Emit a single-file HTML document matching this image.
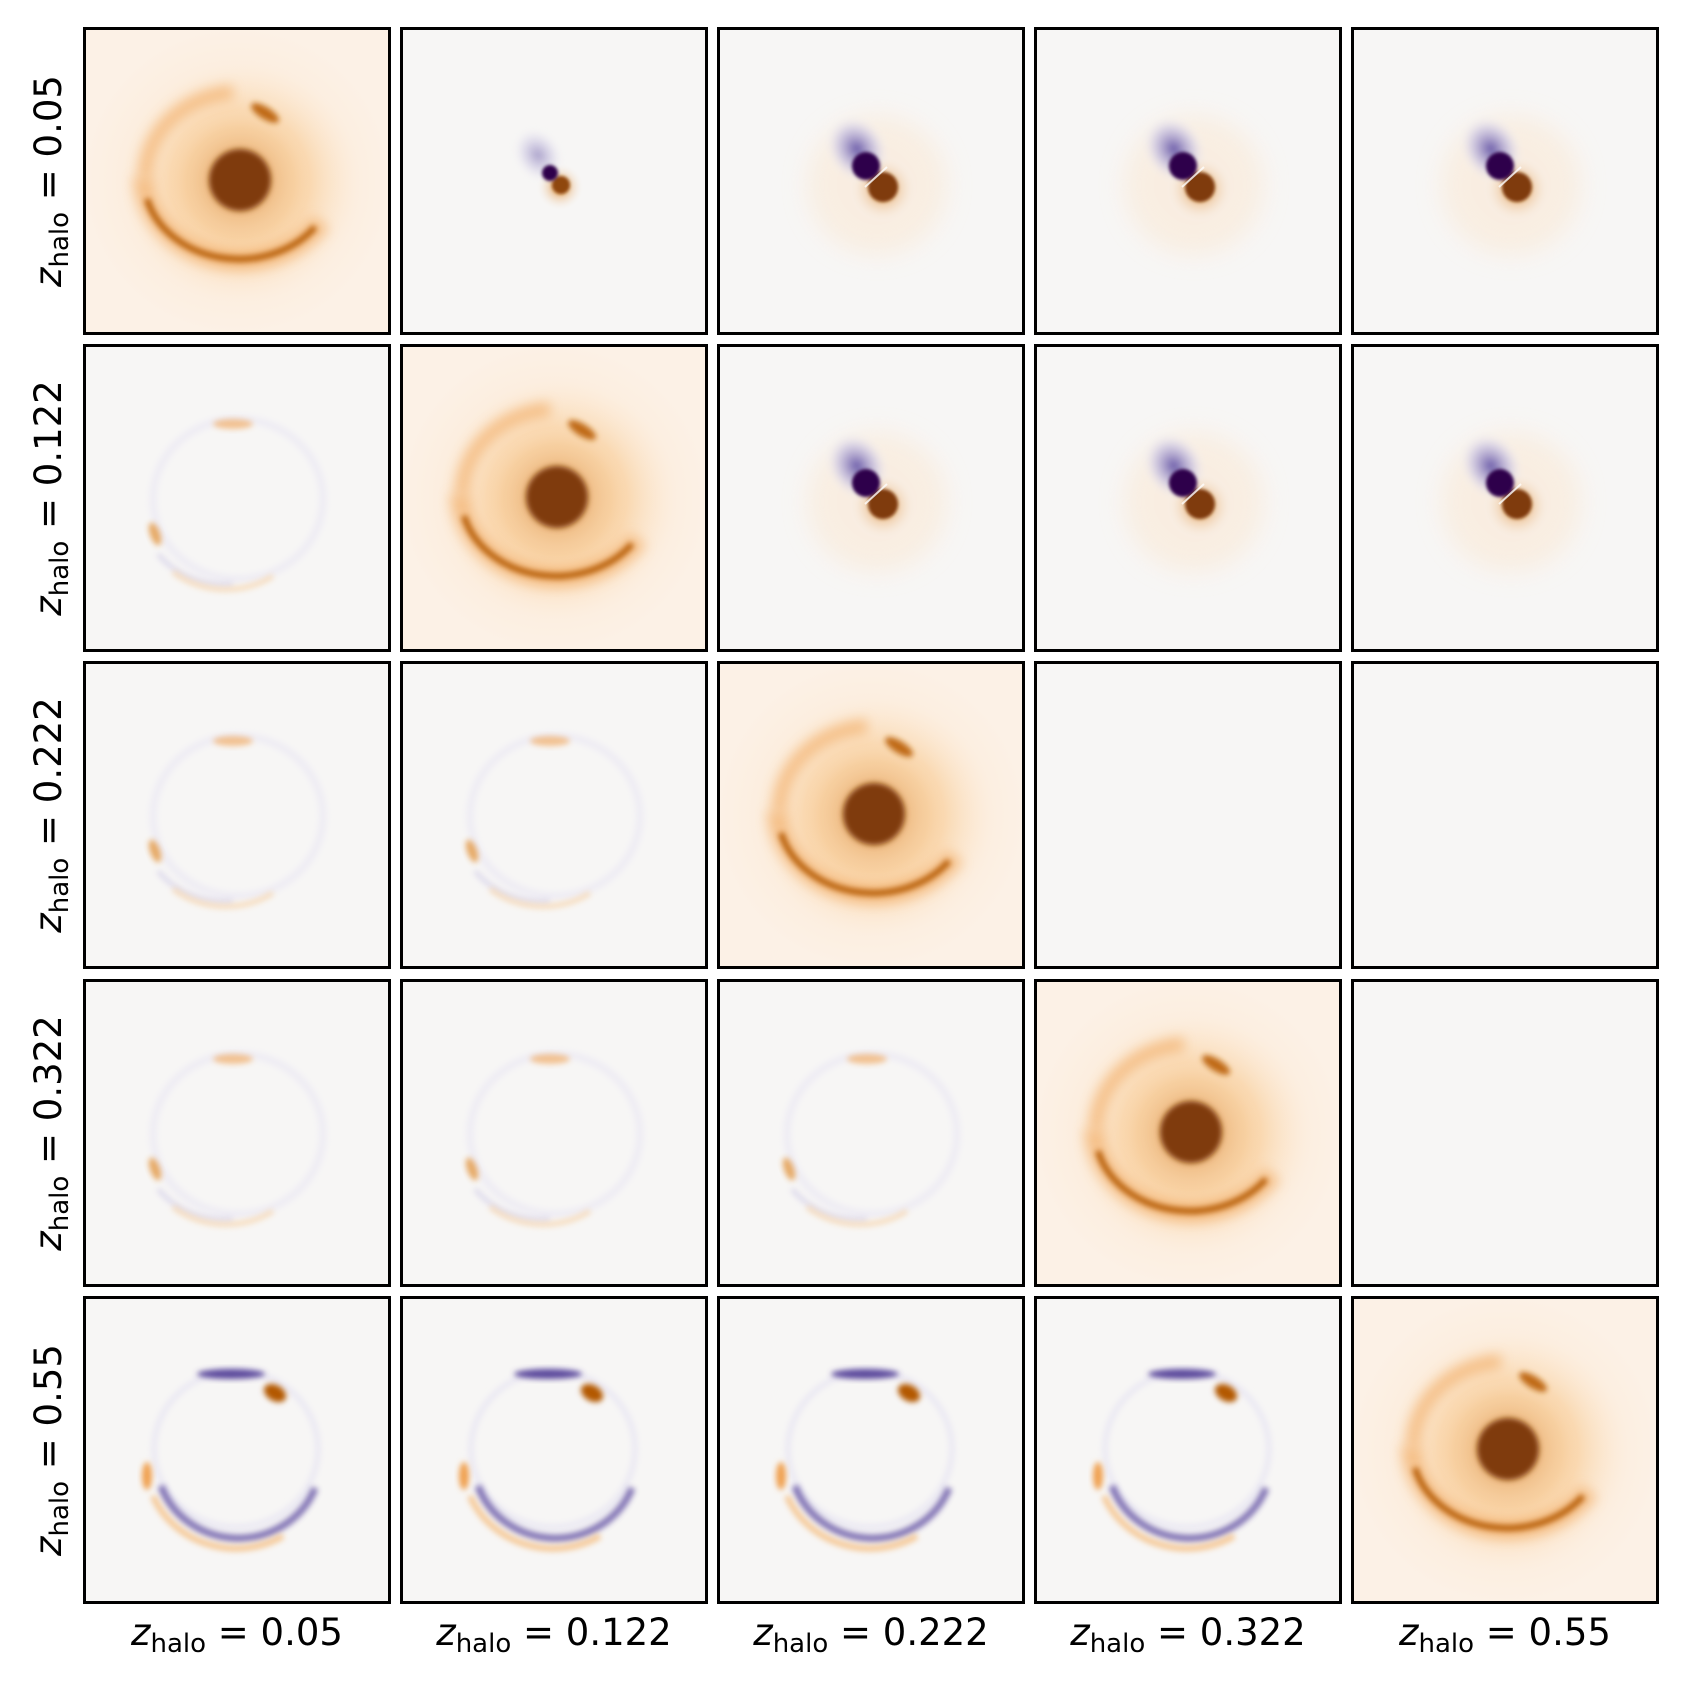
<!DOCTYPE html>
<html><head><meta charset="utf-8"><style>
html,body{margin:0;padding:0;background:#fff}
svg{display:block}
text{font-family:"DejaVu Sans","Liberation Sans",sans-serif;font-size:37px;fill:#000}
</style></head><body>
<svg width="1687" height="1686" viewBox="0 0 1687 1686" xmlns="http://www.w3.org/2000/svg">
<defs>
<filter id="b1" x="-50%" y="-50%" width="200%" height="200%"><feGaussianBlur stdDeviation="1.5"/></filter>
<filter id="b3" x="-50%" y="-50%" width="200%" height="200%"><feGaussianBlur stdDeviation="3"/></filter>
<filter id="b6" x="-50%" y="-50%" width="200%" height="200%"><feGaussianBlur stdDeviation="6"/></filter>
<filter id="b12" x="-50%" y="-50%" width="200%" height="200%"><feGaussianBlur stdDeviation="12"/></filter>
<radialGradient id="glow"><stop offset="0" stop-color="#e88b2a"/><stop offset="0.45" stop-color="#f6b260" stop-opacity="0.85"/><stop offset="1" stop-color="#fde3c4" stop-opacity="0"/></radialGradient>
<radialGradient id="bgd"><stop offset="0" stop-color="#fbe6cd"/><stop offset="1" stop-color="#fcf1e6"/></radialGradient>
<radialGradient id="oglow"><stop offset="0" stop-color="#e08a2c"/><stop offset="1" stop-color="#f7f6f5" stop-opacity="0"/></radialGradient>
<radialGradient id="pglow"><stop offset="0" stop-color="#6a5aa8"/><stop offset="0.6" stop-color="#c9c3e2" stop-opacity="0.7"/><stop offset="1" stop-color="#f7f6f5" stop-opacity="0"/></radialGradient>

<g id="diag">
  <rect x="0" y="0" width="308" height="308" fill="url(#bgd)"/>
  <circle cx="157" cy="155" r="120" fill="url(#glow)" opacity="0.65"/>
  <path d="M60,150 A97,85 0 0 0 238,195" fill="none" stroke="#f0a050" stroke-width="20" opacity="0.55" filter="url(#b6)"/>
  <path d="M64,172 A95,80 0 0 0 232,200" fill="none" stroke="#b35806" stroke-width="6" filter="url(#b3)" opacity="0.95"/>
  <path d="M62,150 A97,85 0 0 1 150,65" fill="none" stroke="#f0a050" stroke-width="14" opacity="0.55" filter="url(#b6)"/>
  <circle cx="157" cy="153" r="70" fill="url(#oglow)" opacity="0.95"/>
  <circle cx="157" cy="153" r="31" fill="#7f3b08" filter="url(#b3)"/>
  <ellipse cx="182" cy="86" rx="16" ry="6" transform="rotate(32 182 86)" fill="#c06a14" filter="url(#b3)"/>
</g>

<g id="dip">
  <rect x="0" y="0" width="308" height="308" fill="#f7f6f5"/>
  <circle cx="160" cy="158" r="70" fill="#fbe6cf" opacity="0.5" filter="url(#b12)"/>
  <ellipse cx="140" cy="122" rx="30" ry="36" transform="rotate(-35 140 122)" fill="url(#pglow)" filter="url(#b3)"/>
  <circle cx="166" cy="162" r="34" fill="url(#oglow)"/>
  <circle cx="166" cy="160" r="15" fill="#7f3b08" filter="url(#b1)"/>
  <circle cx="149" cy="139" r="14" fill="#2d004b" filter="url(#b1)"/>
  <line x1="148" y1="160" x2="170" y2="140" stroke="#ffffff" stroke-width="2" opacity="0.8"/>
</g>

<g id="dipS">
  <rect x="0" y="0" width="308" height="308" fill="#f7f6f5"/>
  <ellipse cx="138" cy="128" rx="24" ry="30" transform="rotate(-35 138 128)" fill="url(#pglow)" opacity="0.55" filter="url(#b3)"/>
  <circle cx="160" cy="160" r="24" fill="url(#oglow)"/>
  <circle cx="161" cy="158" r="9" fill="#8f470c" filter="url(#b1)"/>
  <circle cx="150" cy="146" r="8" fill="#2d004b" filter="url(#b1)"/>
</g>

<g id="res">
  <rect x="0" y="0" width="308" height="308" fill="#f7f6f5"/>
  <ellipse cx="155" cy="155" rx="85" ry="80" fill="none" stroke="#efedf4" stroke-width="8" filter="url(#b3)"/>
  <ellipse cx="150" cy="80" rx="20" ry="5" fill="#f0a050" opacity="0.6" filter="url(#b3)"/>
  <ellipse cx="72" cy="190" rx="5" ry="12" transform="rotate(-20 72 190)" fill="#e08a2c" opacity="0.7" filter="url(#b3)"/>
  <path d="M75,210 A85,80 0 0 0 150,240" fill="none" stroke="#d5d0e8" stroke-width="5" opacity="0.7" filter="url(#b3)"/>
  <path d="M90,228 A85,80 0 0 0 190,232" fill="none" stroke="#f7d2a6" stroke-width="5" opacity="0.7" filter="url(#b3)"/>
</g>

<g id="res4">
  <rect x="0" y="0" width="308" height="308" fill="#f7f6f5"/>
  <ellipse cx="153" cy="153" rx="82" ry="78" fill="none" stroke="#ebe9f3" stroke-width="6" filter="url(#b3)"/>
  <ellipse cx="148" cy="78" rx="34" ry="5" fill="#5b4a9c" filter="url(#b3)"/>
  <ellipse cx="192" cy="97" rx="12" ry="8" transform="rotate(30 192 97)" fill="#b35806" filter="url(#b3)"/>
  <ellipse cx="64" cy="180" rx="5" ry="14" fill="#f0a050" filter="url(#b3)"/>
  <path d="M78,190 A82,78 0 0 0 232,192" fill="none" stroke="#6a5aa8" stroke-width="7" opacity="0.85" filter="url(#b3)"/>
  <path d="M70,200 A90,85 0 0 0 200,240" fill="none" stroke="#f5b46c" stroke-width="6" opacity="0.7" filter="url(#b3)"/>
</g>

<g id="blank"><rect x="0" y="0" width="308" height="308" fill="#f7f6f5"/></g>
<rect id="frame" x="1.5" y="1.5" width="305" height="305" fill="none" stroke="#000" stroke-width="3"/>
</defs>

<g transform="translate(83,27)"><use href="#diag"/><use href="#frame"/></g>
<g transform="translate(400,27)"><use href="#dipS"/><use href="#frame"/></g>
<g transform="translate(717,27)"><use href="#dip"/><use href="#frame"/></g>
<g transform="translate(1034,27)"><use href="#dip"/><use href="#frame"/></g>
<g transform="translate(1351,27)"><use href="#dip"/><use href="#frame"/></g>
<g transform="translate(83,344)"><use href="#res"/><use href="#frame"/></g>
<g transform="translate(400,344)"><use href="#diag"/><use href="#frame"/></g>
<g transform="translate(717,344)"><use href="#dip"/><use href="#frame"/></g>
<g transform="translate(1034,344)"><use href="#dip"/><use href="#frame"/></g>
<g transform="translate(1351,344)"><use href="#dip"/><use href="#frame"/></g>
<g transform="translate(83,661)"><use href="#res"/><use href="#frame"/></g>
<g transform="translate(400,661)"><use href="#res"/><use href="#frame"/></g>
<g transform="translate(717,661)"><use href="#diag"/><use href="#frame"/></g>
<g transform="translate(1034,661)"><use href="#blank"/><use href="#frame"/></g>
<g transform="translate(1351,661)"><use href="#blank"/><use href="#frame"/></g>
<g transform="translate(83,979)"><use href="#res"/><use href="#frame"/></g>
<g transform="translate(400,979)"><use href="#res"/><use href="#frame"/></g>
<g transform="translate(717,979)"><use href="#res"/><use href="#frame"/></g>
<g transform="translate(1034,979)"><use href="#diag"/><use href="#frame"/></g>
<g transform="translate(1351,979)"><use href="#blank"/><use href="#frame"/></g>
<g transform="translate(83,1296)"><use href="#res4"/><use href="#frame"/></g>
<g transform="translate(400,1296)"><use href="#res4"/><use href="#frame"/></g>
<g transform="translate(717,1296)"><use href="#res4"/><use href="#frame"/></g>
<g transform="translate(1034,1296)"><use href="#res4"/><use href="#frame"/></g>
<g transform="translate(1351,1296)"><use href="#diag"/><use href="#frame"/></g>

<g text-anchor="middle">
<text x="237" y="1645"><tspan font-style="italic">z</tspan><tspan font-size="26" dy="7">halo</tspan><tspan dy="-7"> = 0.05</tspan></text>
<text x="554" y="1645"><tspan font-style="italic">z</tspan><tspan font-size="26" dy="7">halo</tspan><tspan dy="-7"> = 0.122</tspan></text>
<text x="871" y="1645"><tspan font-style="italic">z</tspan><tspan font-size="26" dy="7">halo</tspan><tspan dy="-7"> = 0.222</tspan></text>
<text x="1188" y="1645"><tspan font-style="italic">z</tspan><tspan font-size="26" dy="7">halo</tspan><tspan dy="-7"> = 0.322</tspan></text>
<text x="1505" y="1645"><tspan font-style="italic">z</tspan><tspan font-size="26" dy="7">halo</tspan><tspan dy="-7"> = 0.55</tspan></text>
</g>
<g text-anchor="middle">
<text transform="translate(61,181) rotate(-90)"><tspan font-style="italic">z</tspan><tspan font-size="26" dy="7">halo</tspan><tspan dy="-7"> = 0.05</tspan></text>
<text transform="translate(61,498) rotate(-90)"><tspan font-style="italic">z</tspan><tspan font-size="26" dy="7">halo</tspan><tspan dy="-7"> = 0.122</tspan></text>
<text transform="translate(61,815) rotate(-90)"><tspan font-style="italic">z</tspan><tspan font-size="26" dy="7">halo</tspan><tspan dy="-7"> = 0.222</tspan></text>
<text transform="translate(61,1133) rotate(-90)"><tspan font-style="italic">z</tspan><tspan font-size="26" dy="7">halo</tspan><tspan dy="-7"> = 0.322</tspan></text>
<text transform="translate(61,1450) rotate(-90)"><tspan font-style="italic">z</tspan><tspan font-size="26" dy="7">halo</tspan><tspan dy="-7"> = 0.55</tspan></text>
</g>
</svg>
</body></html>
